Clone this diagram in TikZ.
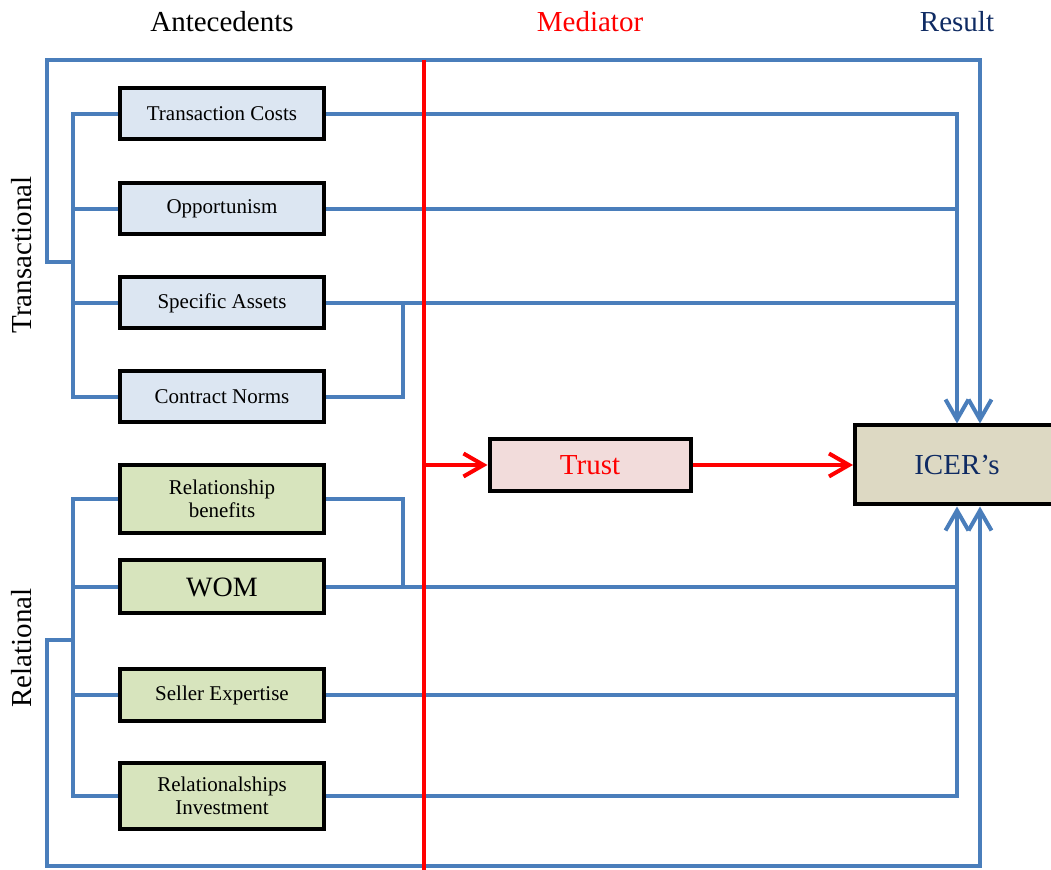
\documentclass[tikz,border=0pt]{standalone}
\usepackage{fontspec}
\setmainfont{Liberation Serif}
\usetikzlibrary{arrows.meta}
\definecolor{lblue}{HTML}{4A7EBB}
\definecolor{tfill}{HTML}{DCE6F2}
\definecolor{rfill}{HTML}{D7E4BD}
\definecolor{trfill}{HTML}{F2DCDB}
\definecolor{icfill}{HTML}{DDD9C3}
\definecolor{navy}{HTML}{0F2B63}
\tikzset{
  box/.style={draw=black,line width=2pt,minimum width=102pt,minimum height=25.5pt,inner sep=0pt,align=center,font=\fontsize{10.5}{11.5}\selectfont},
  trans/.style={box,fill=tfill},
  rel/.style={box,fill=rfill},
  bline/.style={lblue,line width=2pt},
  rline/.style={red,line width=2pt},
  tip/.style={-{Straight Barb[length=10pt,width=11.5pt]}},
  head/.style={font=\fontsize{14.5}{16}\selectfont}
}
\begin{document}
\begin{tikzpicture}[x=0.5pt,y=-0.5pt]
\useasboundingbox (0,0) rectangle (1051,870);
\def\bx{73}
\def\ox{47}

        \node[head] (ante) at (222,22) {Antecedents};
        \node[head,red] (medi) at (590,22) {Mediator};
        \node[head,navy] (resu) at (957,22) {Result};
        \node[head,rotate=90] (trlab) at (22,255) {Transactional};
        \node[head,rotate=90] (rllab) at (22,648) {Relational};

        \node[trans] (tc) at (222,114) {Transaction Costs};
        \node[trans] (opp) at (222,209) {Opportunism};
        \node[trans] (sa) at (222,303) {Specific Assets};
        \node[trans] (cn) at (222,397) {Contract Norms};
        \node[rel,minimum height=34pt] (rb) at (222,499) {Relationship\\benefits};
        \node[rel,minimum height=26.5pt,font=\fontsize{14}{15}\selectfont] (wom) at (222,587) {WOM};
        \node[rel,minimum height=26pt] (se) at (222,695) {Seller Expertise};
        \node[rel,minimum height=33pt] (ri) at (222,796) {Relationalships\\Investment};
        \node[box,fill=trfill,minimum width=100.5pt,minimum height=26pt,text=red,font=\fontsize{14.5}{16}\selectfont] (trust) at (590,465) {Trust};
        \node[box,fill=icfill,minimum height=39.5pt,text=navy,font=\fontsize{14.5}{16}\selectfont] (icer) at (957,465) {ICER’s};

        \coordinate (j1) at (403,303);
        \coordinate (j2) at (403,587);
        \coordinate (mtop) at (424,60);
        \coordinate (mbot) at (424,870);

        \draw[bline] (tc.west) -- (\bx,114) -- (\bx,397) -- (cn.west);
        \draw[bline] (opp.west) -- (\bx,209);
        \draw[bline] (sa.west) -- (\bx,303);
        \draw[bline,tip] (\bx,262) -- (\ox,262) -- (\ox,60) -| ([xshift=11.5pt]icer.north);
        \draw[bline,tip] (tc.east) -| (icer.north);
        \draw[bline] (opp.east) -- (opp.east -| icer.north);
        \draw[bline] (sa.east) -- (sa.east -| icer.north);
        \draw[bline] (cn.east) -| (j1);

        \draw[bline] (rb.west) -- (\bx,499) -- (\bx,796) -- (ri.west);
        \draw[bline] (wom.west) -- (\bx,587);
        \draw[bline] (se.west) -- (\bx,695);
        \draw[bline,tip] (\bx,640) -- (\ox,640) -- (\ox,866) -| ([xshift=11.5pt]icer.south);
        \draw[bline,tip] (ri.east) -| (icer.south);
        \draw[bline] (se.east) -- (se.east -| icer.south);
        \draw[bline] (wom.east) -- (wom.east -| icer.south);
        \draw[bline] (rb.east) -| (j2);

        \draw[rline] (mtop) -- (mbot);
        \draw[rline,tip] (mtop |- trust.west) -- (trust.west);
        \draw[rline,tip] (trust) -- (icer);
\end{tikzpicture}
\end{document}
